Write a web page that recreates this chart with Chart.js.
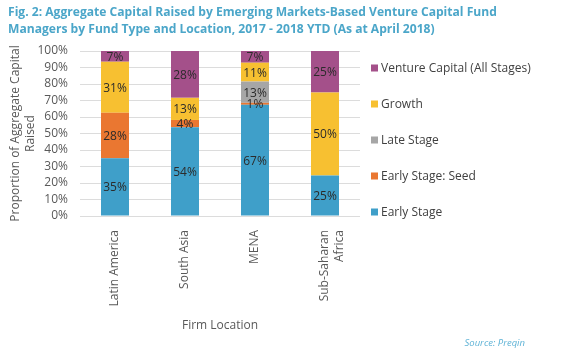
<!DOCTYPE html>
<html>
<head>
<meta charset="utf-8">
<script src="https://cdn.jsdelivr.net/npm/chart.js@4"></script>
<style>
  html, body { margin: 0; padding: 0; background: #fff; }
  #wrap { position: relative; width: 580px; height: 355px; }
  #title { position: absolute; left: 8px; top: 3px; font-family: "Open Sans", sans-serif; font-weight: bold; font-size: 12.1px; line-height: 17px; color: #4ba6c9; white-space: nowrap; }
  #source { position: absolute; right: 55px; top: 336px; font-family: "Open Sans", sans-serif; font-style: italic; font-size: 9.5px; color: #5fb3d6; }
  canvas { position: absolute; left: 0; top: 0; }
</style>
</head>
<body>
<div id="wrap">
  <canvas id="c" width="580" height="355"></canvas>
  <div id="title">Fig. 2: Aggregate Capital Raised by Emerging Markets-Based Venture Capital Fund<br>Managers by Fund Type and Location, 2017 - 2018 YTD (As at April 2018)</div>
  <div id="source">Source: Preqin</div>
</div>
<script>
const categories = [["Latin America"], ["South Asia"], ["MENA"], ["Sub-Saharan", "Africa"]];
const earlyStage = [35.0, 53.8, 67.4, 24.6];
const earlySeed = [27.6, 4.4, 1.2, 0];
const lateStage = [0, 0, 12.9, 0];
const growth = [30.9, 13.4, 11.4, 50.2];
const ventureCapital = [6.5, 28.4, 7.1, 25.2];
const yTicks = [0, 10, 20, 30, 40, 50, 60, 70, 80, 90, 100];

const seriesNames = ["Early Stage", "Early Stage: Seed", "Late Stage", "Growth", "Venture Capital (All Stages)"];
const seriesColors = ["#3f9fc9", "#ea7731", "#a6a6a6", "#f7c031", "#a4508a"];
const seriesData = [earlyStage, earlySeed, lateStage, growth, ventureCapital];

const FONT = '"Open Sans", sans-serif';

const barLabels = {
  id: 'barLabels',
  afterDatasetsDraw(chart) {
    const ctx = chart.ctx;
    ctx.save();
    ctx.font = '12px ' + FONT;
    ctx.fillStyle = '#2b2b2b';
    ctx.textAlign = 'center';
    ctx.textBaseline = 'middle';
    chart.data.datasets.forEach((ds, di) => {
      const meta = chart.getDatasetMeta(di);
      meta.data.forEach((el, i) => {
        const v = ds.data[i];
        if (!v) return;
        const y = (el.y + el.base) / 2;
        ctx.fillText(Math.round(v) + '%', el.x, y + 1);
      });
    });
    ctx.restore();
  }
};

const sideLegend = {
  id: 'sideLegend',
  afterDraw(chart) {
    const ctx = chart.ctx;
    const a = chart.chartArea;
    ctx.save();
    ctx.font = '12px ' + FONT;
    ctx.textBaseline = 'middle';
    ctx.textAlign = 'left';
    const ds = chart.data.datasets.slice().reverse();
    ds.forEach((d, k) => {
      const y = a.top + 17 + k * 36;
      const x = a.right + 11;
      ctx.fillStyle = d.backgroundColor;
      ctx.fillRect(x, y - 3.5, 7, 7);
      ctx.fillStyle = '#404040';
      ctx.fillText(d.label, x + 10, y + 0.5);
    });
    ctx.restore();
  }
};

new Chart(document.getElementById('c'), {
  type: 'bar',
  data: {
    labels: categories,
    datasets: seriesNames.map((n, i) => ({
      label: n,
      data: seriesData[i],
      backgroundColor: seriesColors[i],
      borderWidth: 0,
      barPercentage: 0.4,
      categoryPercentage: 1.0
    }))
  },
  options: {
    responsive: false,
    animation: false,
    devicePixelRatio: 1,
    layout: { padding: { left: 8, right: 220, top: 51, bottom: 19 } },
    plugins: { legend: { display: false }, tooltip: { enabled: false } },
    scales: {
      x: {
        stacked: true,
        grid: { display: false },
        border: { display: false },
        ticks: { color: '#595959', font: { family: FONT, size: 12 }, minRotation: 90, maxRotation: 90, padding: 6 },
        title: { display: true, text: 'Firm Location', color: '#595959', font: { family: FONT, size: 12 }, padding: { top: 0, bottom: 3 } },
        afterFit(s) { s.height = 120; }
      },
      y: {
        stacked: true,
        min: 0, max: 100,
        afterBuildTicks(s) { s.ticks = yTicks.map(v => ({ value: v })); },
        grid: { color: '#dcdcdc', lineWidth: 1, drawTicks: false },
        border: { display: false },
        ticks: { color: '#595959', font: { family: FONT, size: 12 }, padding: 12, autoSkip: false, stepSize: 10, callback: v => v + '%' },
        title: { display: true, text: ['Proportion of Aggregate Capital', 'Raised'], color: '#595959', font: { family: FONT, size: 12, lineHeight: 1.25 }, padding: 0 },
        afterFit(s) { s.width = 72; }
      }
    }
  },
  plugins: [barLabels, sideLegend]
});
</script>
</body>
</html>
